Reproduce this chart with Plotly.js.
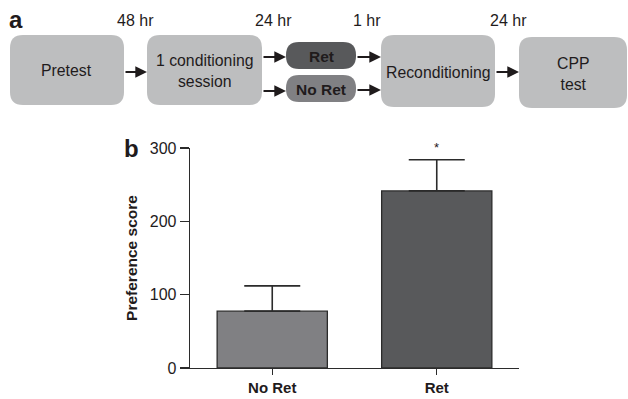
<!DOCTYPE html>
<html>
<head>
<meta charset="utf-8">
<script src="https://cdn.plot.ly/plotly-3.0.1.min.js"></script>
<style>html,body{margin:0;padding:0;background:#fff;}#chart{width:628px;height:399px;}</style>
</head>
<body>
<div id="chart"></div>
<script>
// ---- data ----
const groups = ['No Ret', 'Ret'];
const meanScore = [77.5, 241.5];
const semScore = [34.5, 42.5];
const barColors = ['#808083', '#58595b'];
const yTicks = [0, 100, 200, 300];
const sigMarks = ['', '*'];
const stageLabels = ['Pretest', '1 conditioning<br>session', 'Reconditioning', 'CPP<br>test'];
const branchLabels = ['Ret', 'No Ret'];
const delayLabels = ['48 hr', '24 hr', '1 hr', '24 hr'];

// ---- geometry helpers (pixel -> paper) ----
const L = 190, R = 519, T = 148, B = 368;
const X = p => (p - L) / (R - L);
const Y = p => (B - p) / (B - T);
function rr(x0, y0, x1, y1, r) {
  const pts = [
    ['M', x0 + r, y0], ['L', x1 - r, y0], ['Q', x1, y0, x1, y0 + r],
    ['L', x1, y1 - r], ['Q', x1, y1, x1 - r, y1], ['L', x0 + r, y1],
    ['Q', x0, y1, x0, y1 - r], ['L', x0, y0 + r], ['Q', x0, y0, x0 + r, y0]
  ];
  return pts.map(s => {
    const c = s[0]; const v = s.slice(1);
    let out = c;
    for (let i = 0; i < v.length; i += 2) out += ' ' + X(v[i]).toFixed(5) + ',' + Y(v[i + 1]).toFixed(5);
    return out;
  }).join(' ') + ' Z';
}

const FONT = 'Liberation Sans, Arial, Helvetica, sans-serif';
const INK = '#1f1b1c';
const boxes = [
  {b: [10, 35, 124, 105], r: 13, fill: '#bdbebf', text: stageLabels[0], bold: false},
  {b: [147, 35, 262, 105], r: 13, fill: '#bdbebf', text: stageLabels[1], bold: false},
  {b: [286, 42, 356, 69], r: 13, fill: '#58595b', text: branchLabels[0], bold: true},
  {b: [286, 75, 356, 102], r: 13, fill: '#808083', text: branchLabels[1], bold: true},
  {b: [381, 35, 495, 107], r: 13, fill: '#bdbebf', text: stageLabels[2], bold: false},
  {b: [519, 37, 627, 108], r: 13, fill: '#bdbebf', text: stageLabels[3], bold: false}
];
const shapes = boxes.map(bx => ({
  type: 'path', xref: 'paper', yref: 'paper', path: rr(...bx.b, bx.r),
  fillcolor: bx.fill, line: {width: 0}, layer: 'above'
}));
const annotations = [];
boxes.forEach(bx => {
  annotations.push({
    xref: 'paper', yref: 'paper', x: X((bx.b[0] + bx.b[2]) / 2), y: Y((bx.b[1] + bx.b[3]) / 2 + 1),
    text: bx.bold ? '<b>' + bx.text + '</b>' : bx.text, showarrow: false,
    font: {family: FONT, size: bx.bold ? 15.5 : 15.8, color: INK}, xanchor: 'center', yanchor: 'middle'
  });
});
const delayX = [135, 273, 367, 508];
delayLabels.forEach((d, i) => annotations.push({
  xref: 'paper', yref: 'paper', x: X(delayX[i]), y: Y(20.5), text: d, showarrow: false,
  font: {family: FONT, size: 16, color: INK}, xanchor: 'center', yanchor: 'middle'
}));
const arrows = [[124, 147, 72], [262, 286, 57], [262, 286, 91], [356, 381, 57], [356, 381, 90], [495, 519, 72]];
arrows.forEach(a => annotations.push({
  xref: 'paper', yref: 'paper', x: X(a[1]), y: Y(a[2]), ax: a[0] - a[1], ay: 0,
  text: '', showarrow: true, arrowhead: 2, arrowsize: 1.3, arrowwidth: 1.8, arrowcolor: INK, standoff: 0
}));
annotations.push({xref: 'paper', yref: 'paper', x: X(16), y: Y(19), text: '<b>a</b>', showarrow: false,
  font: {family: FONT, size: 24, color: INK}, xanchor: 'center', yanchor: 'middle'});
annotations.push({xref: 'paper', yref: 'paper', x: X(131), y: Y(148), text: '<b>b</b>', showarrow: false,
  font: {family: FONT, size: 24, color: INK}, xanchor: 'center', yanchor: 'middle'});
groups.forEach((g, i) => {
  if (sigMarks[i]) annotations.push({
    xref: 'x', yref: 'y', x: g, y: meanScore[i] + semScore[i], yshift: 12, text: sigMarks[i], showarrow: false,
    font: {family: FONT, size: 13, color: INK}, xanchor: 'center', yanchor: 'middle'
  });
});

const trace = {
  type: 'bar', x: groups, y: meanScore, width: 0.67,
  marker: {color: barColors, line: {color: '#2b2b2b', width: 1.3}},
  error_y: {type: 'data', symmetric: false, array: semScore, arrayminus: [0, 0], color: '#2b2b2b', thickness: 1.6, width: 28},
  hoverinfo: 'none'
};

const layout = {
  width: 628, height: 399,
  margin: {l: L, r: 628 - R, t: T, b: 399 - B},
  paper_bgcolor: '#fff', plot_bgcolor: '#fff',
  showlegend: false,
  font: {family: FONT, color: INK},
  xaxis: {
    type: 'category', range: [-0.5, 1.5], showline: true, linecolor: '#2b2b2b', linewidth: 1.3,
    ticks: 'outside', ticklen: 6, tickcolor: '#2b2b2b', tickwidth: 1.3, showgrid: false, zeroline: false,
    ticktext: groups.map(g => '<b>' + g + '</b>'), tickvals: groups,
    tickfont: {family: FONT, size: 15, color: INK}
  },
  yaxis: {
    range: [0, 300], tickvals: yTicks, showline: true, linecolor: '#2b2b2b', linewidth: 1.3,
    ticks: 'outside', ticklen: 9, tickcolor: '#2b2b2b', tickwidth: 1.3, showgrid: false, zeroline: false,
    tickfont: {family: FONT, size: 16, color: INK},
    title: {text: '<b>Preference score</b>', font: {family: FONT, size: 15.5, color: INK}, standoff: 8}
  },
  shapes: shapes,
  annotations: annotations
};
Plotly.newPlot('chart', [trace], layout, {displayModeBar: false, staticPlot: true});
</script>
</body>
</html>
